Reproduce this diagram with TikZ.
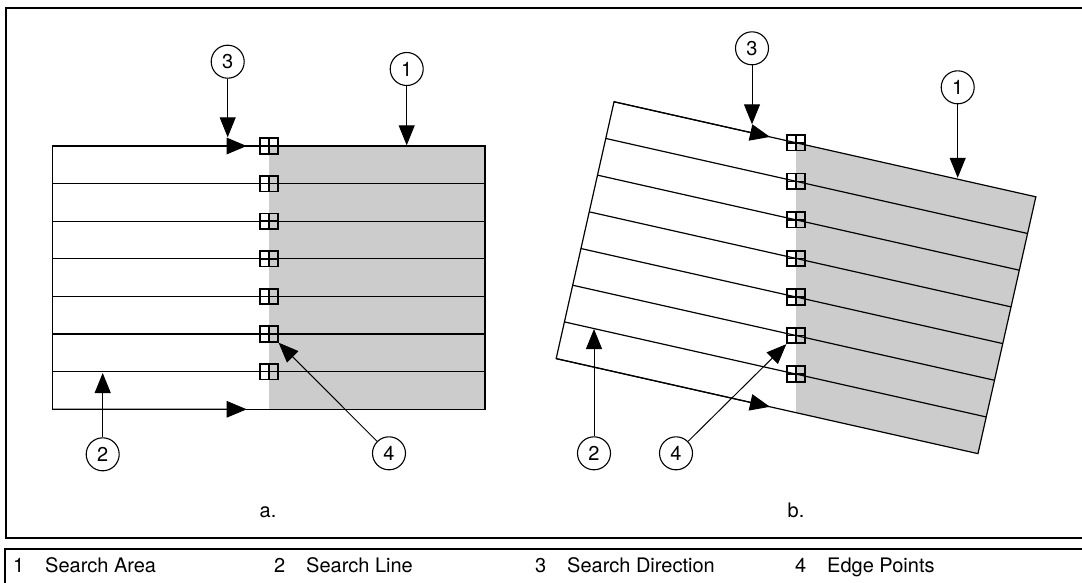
\documentclass[tikz,border=0pt]{standalone}
\usepackage{fontspec}
\setmainfont{TeX Gyre Heros}
\usetikzlibrary{arrows.meta}
\begin{document}
\begin{tikzpicture}[x=1pt,y=-1pt,
  sline/.style={line width=1.2pt},
  frame/.style={line width=2pt},
  callout/.style={circle,draw,line width=1.1pt,minimum size=33pt,inner sep=0pt,font=\fontsize{20}{22}\selectfont},
  ept/.style={draw,line width=1.7pt,minimum width=17.5pt,minimum height=15.5pt,inner sep=0pt,
     path picture={\draw[line width=1.5pt] (path picture bounding box.north)--(path picture bounding box.south) (path picture bounding box.west)--(path picture bounding box.east);}},
  pointer/.style={line width=1pt,-{Triangle[length=20pt,width=16pt]}},
  dirarrow/.style={line width=1.2pt,-{Triangle[length=20pt,width=16.5pt]}},
  lbl/.style={font=\fontsize{20}{23}\selectfont,inner sep=0pt},
  area/.style={fill=black!20}]
\useasboundingbox (0,0) rectangle (1082,582);
% frames
\draw[frame] (1083,537.7) -- (6,537.7) -- (6,7.5) -- (1083,7.5);
\draw[frame] (1083,548.7) -- (5,548.7) -- (5,584);

% ---------- panel a ----------
\foreach \k in {0,...,7} {
  \coordinate (aL\k) at (52.6,{146+37.614*\k});
  \coordinate (aR\k) at (485,{146+37.614*\k});
}
\fill[area] (269,146) rectangle (485,409.3);
\draw[sline] (aL0) -- (aR0) -- (aR7) -- (aL7) -- cycle;
\foreach \k in {1,...,6} \draw[sline] (aL\k) -- (aR\k);
\coordinate (aT0) at (246.7,146);
\coordinate (aT7) at (246.7,409.3);
\draw[dirarrow] (aL0) -- (aT0);
\draw[dirarrow] (aL7) -- (aT7);
\foreach \k in {0,...,6} \node[ept] (aE\k) at (269,{146+37.614*\k}) {};

\node[callout] (a3) at (227.7,61.7) {3};
\coordinate (a3t) at (227.7,137.3);
\draw[pointer] (a3) -- (a3t);
\node[callout] (a1) at (406.7,69) {1};
\coordinate (a1t) at (406.7,145.3);
\draw[pointer] (a1) -- (a1t);
\node[callout] (a2) at (102.7,454.3) {2};
\coordinate (a2t) at (102.7,373);
\draw[pointer] (a2) -- (a2t);
\node[callout] (a4) at (389,453.3) {4};
\draw[pointer] (a4) -- (aE5.south east);

% ---------- panel b ----------
\begin{scope}[shift={(796,277.7)},rotate=-12.7]
  \foreach \k in {0,...,7} {
    \coordinate (bL\k) at (-216.2,{-131.65+37.614*\k});
    \coordinate (bR\k) at (216.2,{-131.65+37.614*\k});
  }
  \coordinate (bT0) at (-56.32,-131.65);
  \coordinate (bT7) at (3.01,131.65);
\end{scope}
\begin{scope}
  \clip (bL0) -- (bR0) -- (bR7) -- (bL7) -- cycle;
  \fill[area] (796,0) rectangle (1082,582);
\end{scope}
\draw[sline] (bL0) -- (bR0) -- (bR7) -- (bL7) -- cycle;
\foreach \k in {1,...,6} \draw[sline] (bL\k) -- (bR\k);
\draw[dirarrow] (bL0) -- (bT0);
\draw[dirarrow] (bL7) -- (bT7);
\foreach \k in {0,...,6} \node[ept] (bE\k) at (796,{277.7+(-131.65+37.614*\k)/0.97553}) {};

\node[callout] (b3) at (752,48.3) {3};
\coordinate (b3t) at (752,124.3);
\draw[pointer] (b3) -- (b3t);
\node[callout] (b1) at (957.7,87.3) {1};
\coordinate (b1t) at (957.7,177.8);
\draw[pointer] (b1) -- (b1t);
\node[callout] (b2) at (594,453.3) {2};
\coordinate (b2t) at (594,329);
\draw[pointer] (b2) -- (b2t);
\node[callout] (b4) at (676,453.3) {4};
\draw[pointer] (b4) -- (bE5.south west);

% panel labels
\node[lbl,anchor=base] (la) at (268,517) {a.};
\node[lbl,anchor=base] (lb) at (796,517) {b.};

% legend
\node[lbl,anchor=base west] (n1) at (13,572) {1};
\node[lbl,anchor=base west] (t1) at (45,572) {Search Area};
\node[lbl,anchor=base west] (n2) at (274,572) {2};
\node[lbl,anchor=base west] (t2) at (306,572) {Search Line};
\node[lbl,anchor=base west] (n3) at (535,572) {3};
\node[lbl,anchor=base west] (t3) at (567,572) {Search Direction};
\node[lbl,anchor=base west] (n4) at (795,572) {4};
\node[lbl,anchor=base west] (t4) at (827,572) {Edge Points};
\end{tikzpicture}
\end{document}
